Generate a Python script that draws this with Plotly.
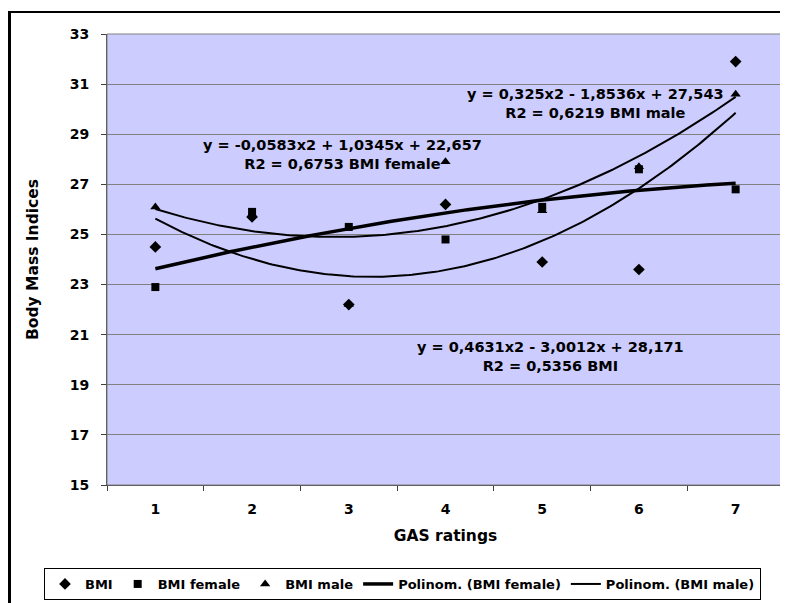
import numpy as np
import plotly.graph_objects as go

# ---- data ----
gas = [1, 2, 3, 4, 5, 6, 7]
gas_labels = ["1", "2", "3", "4", "5", "6", "7"]
bmi = [24.5, 25.7, 22.2, 26.2, 23.9, 23.6, 31.9]
bmi_female = [22.9, 25.9, 25.3, 24.8, 26.1, 27.6, 26.8]
bmi_male = [26.1, 25.8, 22.2, 27.9, 25.95, 27.7, 30.6]

# polynomial trend coefficients as printed on the chart (a*x^2 + b*x + c)
coef_bmi = [0.4631, -3.0012, 28.171]
coef_female = [-0.0583, 1.0345, 22.657]
coef_male = [0.325, -1.8536, 27.543]

eq_bmi = "y = 0,4631x2 - 3,0012x + 28,171<br>R2 = 0,5356 BMI"
eq_female = "y = -0,0583x2 + 1,0345x + 22,657<br>R2 = 0,6753 BMI female"
eq_male = "y = 0,325x2 - 1,8536x + 27,543<br>R2 = 0,6219 BMI male"

y_ticks = list(range(15, 34, 2))

FONT = "DejaVu Sans"
OFF = 8  # page offset of the figure (body margin)
W, H = 788 - OFF, 603 - OFF
L, R, T, B = 107 - OFF, 4, 34 - OFF, 118
PW, PH = W - L - R, H - T - B

def px2paper_x(page_px):
    return (page_px - OFF - L) / PW

def px2paper_y(page_py):
    return (H - B - (page_py - OFF)) / PH

xs = np.linspace(gas[0], gas[-1], 200)

fig = go.Figure()

fig.add_trace(go.Scatter(x=gas, y=bmi, mode="markers", name="BMI",
                         marker=dict(symbol="diamond", size=9, color="black")))
fig.add_trace(go.Scatter(x=gas, y=bmi_female, mode="markers", name="BMI female",
                         marker=dict(symbol="square", size=8, color="black")))
fig.add_trace(go.Scatter(x=gas, y=bmi_male, mode="markers", name="BMI male",
                         marker=dict(symbol="triangle-up", size=9, color="black")))
fig.add_trace(go.Scatter(x=xs, y=np.polyval(coef_female, xs), mode="lines",
                         name="Polinom. (BMI female)",
                         line=dict(color="black", width=3.5)))
fig.add_trace(go.Scatter(x=xs, y=np.polyval(coef_male, xs), mode="lines",
                         name="Polinom. (BMI male)",
                         line=dict(color="black", width=2)))
fig.add_trace(go.Scatter(x=xs, y=np.polyval(coef_bmi, xs), mode="lines",
                         name="Polinom. (BMI)", showlegend=False,
                         line=dict(color="black", width=2)))

ann_font = dict(family=FONT, size=14.5, color="black", weight="bold")
annotations = [
    dict(x=2.93, y=28.19, text=eq_female),
    dict(x=5.546, y=30.23, text=eq_male),
    dict(x=5.09, y=20.13, text=eq_bmi),
]
for a in annotations:
    a.update(xref="x", yref="y", showarrow=False, font=ann_font,
             align="center", xanchor="center", yanchor="middle")

fig.update_layout(
    width=W, height=H,
    margin=dict(l=L, r=R, t=T, b=B, autoexpand=False),
    paper_bgcolor="white",
    plot_bgcolor="#CCCCFF",
    font=dict(family=FONT, size=13, color="black", weight="bold"),
    showlegend=True,
    legend=dict(orientation="h", xref="paper", yref="paper",
                x=px2paper_x(44), xanchor="left",
                y=px2paper_y(568), yanchor="top",
                bgcolor="white", bordercolor="black", borderwidth=1,
                font=dict(family=FONT, size=13, color="black", weight="bold"),
                itemwidth=30, tracegroupgap=0),
    annotations=annotations,
    shapes=[
        # plot area border (gray)
        dict(type="rect", xref="paper", yref="paper", x0=0, x1=1, y0=0, y1=1,
             line=dict(color="#808080", width=1), layer="above"),
        # outer chart frame (left and top visible)
        dict(type="line", xref="paper", yref="paper",
             x0=px2paper_x(9.5), x1=px2paper_x(9.5), y0=px2paper_y(12), y1=px2paper_y(620),
             line=dict(color="black", width=3)),
        dict(type="line", xref="paper", yref="paper",
             x0=px2paper_x(8), x1=px2paper_x(800), y0=px2paper_y(12), y1=px2paper_y(12),
             line=dict(color="black", width=2)),
    ],
)

fig.update_xaxes(
    range=[0.5, 7.5], tickmode="array", tickvals=gas, ticktext=gas_labels,
    ticks="", showgrid=False, zeroline=False,
    showline=True, linecolor="#404040", linewidth=1,
    minor=dict(tickmode="linear", tick0=0.5, dtick=1, ticks="outside",
               ticklen=5, tickcolor="#404040", showgrid=False),
    ticklabelstandoff=11,
    tickfont=dict(family=FONT, size=14, color="black", weight="bold"),
    title=dict(text="GAS ratings", standoff=14,
               font=dict(family=FONT, size=15.5, color="black", weight="bold")),
)
fig.update_yaxes(
    range=[15, 33], tickmode="array", tickvals=y_ticks,
    ticks="outside", ticklen=5, tickcolor="#404040",
    showgrid=True, gridcolor="#808080", gridwidth=1, zeroline=False,
    showline=True, linecolor="#404040", linewidth=1,
    ticklabelstandoff=9,
    tickfont=dict(family=FONT, size=14, color="black", weight="bold"),
    title=dict(text="Body Mass Indices", standoff=27,
               font=dict(family=FONT, size=15.5, color="black", weight="bold")),
)

fig.write_html("out.html")
